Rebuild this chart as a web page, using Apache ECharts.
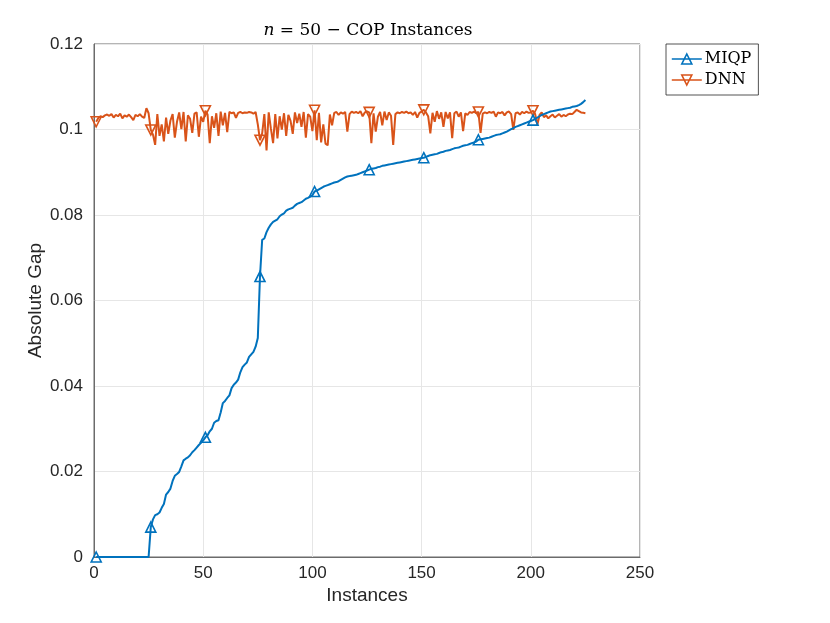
<!DOCTYPE html>
<html>
<head>
<meta charset="utf-8">
<script src="https://cdn.jsdelivr.net/npm/echarts@6/dist/echarts.min.js"></script>
<style>
  html, body { margin: 0; padding: 0; background: #fff; }
  #chart { width: 830px; height: 623px; }
</style>
</head>
<body>
<div id="chart"></div>
<script>
// tick labels
const xTicks = [0, 50, 100, 150, 200, 250];
const yTicks = [0, 0.02, 0.04, 0.06, 0.08, 0.1, 0.12];

// MIQP absolute gap, sorted, instances 1..225
const miqpGap = [
  0, 0, 0, 0, 0, 0, 0, 0, 0, 0, 0, 0, 0, 0, 0, 0, 0, 0, 0, 0, 0, 0, 0, 0, 0,
  0.0070, 0.0088, 0.0098, 0.0100, 0.0104, 0.0115, 0.0124, 0.0146, 0.0152, 0.0160,
  0.0178, 0.0190, 0.0194, 0.0199, 0.0212, 0.0226, 0.0230, 0.0233, 0.0238, 0.0245,
  0.0250, 0.0256, 0.0262, 0.0267, 0.0273, 0.0280, 0.0285, 0.0294, 0.0300, 0.0314,
  0.0318, 0.0320, 0.0338, 0.0360, 0.0365, 0.0372, 0.0378, 0.0395, 0.0403, 0.0408,
  0.0415, 0.0432, 0.0444, 0.0450, 0.0455, 0.0468, 0.0474, 0.0480, 0.0492, 0.0512,
  0.0656, 0.0742, 0.0745, 0.0760, 0.0770, 0.0778, 0.0784, 0.0787, 0.0790, 0.0797,
  0.0801, 0.0804, 0.0810, 0.0813, 0.0815, 0.0817, 0.0822, 0.0826, 0.0828, 0.0830,
  0.0834, 0.0838, 0.0840, 0.0843, 0.0846, 0.0855, 0.0857, 0.0860, 0.0863, 0.0866,
  0.0868, 0.0870, 0.0872, 0.0874, 0.0876, 0.0877, 0.0879, 0.0882, 0.0885, 0.0888,
  0.0890, 0.0891, 0.0892, 0.0893, 0.0894, 0.0896, 0.0898, 0.0900, 0.0902, 0.0904,
  0.0906, 0.0908, 0.0909, 0.0910, 0.0912, 0.0913, 0.0915, 0.0916, 0.0917, 0.0918,
  0.0919, 0.0920, 0.0921, 0.0922, 0.0923, 0.0924, 0.0925, 0.0926, 0.0927, 0.0928,
  0.0929, 0.0930, 0.0931, 0.0932, 0.0933, 0.0934, 0.0936, 0.0938, 0.0940, 0.0941,
  0.0942, 0.0943, 0.0945, 0.0947, 0.0948, 0.0950, 0.0951, 0.0952, 0.0954, 0.0956,
  0.0957, 0.0958, 0.0960, 0.0962, 0.0963, 0.0964, 0.0966, 0.0968, 0.0970, 0.0972,
  0.0976, 0.0977, 0.0978, 0.0979, 0.0980, 0.0981, 0.0983, 0.0985, 0.0987, 0.0988,
  0.0989, 0.0991, 0.0993, 0.0995, 0.0998, 0.1001, 0.1003, 0.1006, 0.1008, 0.1010,
  0.1012, 0.1014, 0.1016, 0.1018, 0.1020, 0.1022, 0.1025, 0.1028, 0.1031, 0.1034,
  0.1036, 0.1038, 0.1040, 0.1042, 0.1043, 0.1044, 0.1045, 0.1046, 0.1047, 0.1048,
  0.1049, 0.1050, 0.1051, 0.1053, 0.1054, 0.1055, 0.1057, 0.1060, 0.1064, 0.1069
];

// DNN absolute gap, same instance order
const dnnGap = [
  0.1018, 0.1027, 0.1031, 0.1029, 0.1033, 0.1035, 0.1032, 0.1036, 0.1028, 0.1034,
  0.1031, 0.1037, 0.1026, 0.1033, 0.1030, 0.1035, 0.1029, 0.1022, 0.1034, 0.1031,
  0.1036, 0.1030, 0.1027, 0.1050, 0.1038, 0.0999, 0.0988, 0.0964, 0.1036, 0.0985,
  0.1012, 0.0972, 0.1028, 0.0990, 0.1021, 0.1036, 0.0981, 0.1018, 0.1040, 0.1001,
  0.1041, 0.0972, 0.1033, 0.1025, 0.0992, 0.1037, 0.1040, 0.0983, 0.1030, 0.1018,
  0.1044, 0.1035, 0.0968, 0.1031, 0.1004, 0.1038, 0.0985, 0.1042, 0.1010, 0.1039,
  0.0994, 0.1041, 0.1038, 0.1040, 0.1027, 0.1039, 0.1041, 0.1038, 0.1040, 0.1039,
  0.1041, 0.1040, 0.1037, 0.1041, 0.1012, 0.0975, 0.0991, 0.1036, 0.0951, 0.1040,
  0.1002, 0.0968, 0.1036, 0.0979, 0.1031, 0.1000, 0.1038, 0.0985, 0.1034, 0.1020,
  0.0990, 0.1040, 0.1015, 0.1037, 0.1006, 0.1041, 0.0981, 0.1036, 0.1030, 0.0996,
  0.1045, 0.0975, 0.1039, 0.0970, 0.1012, 0.0967, 0.0963, 0.1035, 0.1010, 0.1039,
  0.1041, 0.1034, 0.1040, 0.1037, 0.1041, 0.0995, 0.1036, 0.1042, 0.1039, 0.1041,
  0.1038, 0.1043, 0.1031, 0.1040, 0.1042, 0.1040, 0.0968, 0.1038, 0.0995, 0.1030,
  0.1041, 0.1010, 0.1042, 0.1022, 0.1040, 0.1032, 0.0964, 0.1036, 0.1040, 0.1038,
  0.1041, 0.1039, 0.1042, 0.1038, 0.1040, 0.1034, 0.1041, 0.1028, 0.1039, 0.1042,
  0.1046, 0.1040, 0.1031, 0.0991, 0.1039, 0.1018, 0.1043, 0.1025, 0.1040, 0.1006,
  0.1041, 0.1026, 0.1040, 0.0980, 0.1038, 0.1042, 0.1030, 0.1040, 0.0996, 0.1038,
  0.1034, 0.1041, 0.1039, 0.1042, 0.1038, 0.1041, 0.0992, 0.1037, 0.1040, 0.1038,
  0.1041, 0.1039, 0.1042, 0.1030, 0.1040, 0.1038, 0.1041, 0.1033, 0.1040, 0.1042,
  0.1036, 0.0999, 0.1038, 0.1040, 0.1035, 0.1041, 0.1038, 0.1042, 0.1039, 0.1040,
  0.1044, 0.1036, 0.1011, 0.1034, 0.1040, 0.1029, 0.1033, 0.1026, 0.1031, 0.1035,
  0.1028, 0.1032, 0.1036, 0.1030, 0.1034, 0.1031, 0.1035, 0.1037, 0.1036, 0.1041,
  0.1046, 0.1043, 0.1040, 0.1039, 0.1038
];

const seriesNames = ["MIQP", "DNN"];
const colors = ["#0072BD", "#D95319"];

// instance number is just the position, starting at 1
const toPairs = arr => arr.map((v, i) => [i + 1, v]);

const textColor = "#262626";
const frameColor = "#6b6b6b";
const sans = "Liberation Sans";
const serif = "DejaVu Serif";

// marker every 25 instances, like MATLAB MarkerIndices
const markerEvery = (val, params) => (params.dataIndex % 25 === 0 ? "triangle" : "none");

const chart = echarts.init(document.getElementById("chart"), null, {renderer: "canvas"});

chart.setOption({
  animation: false,
  backgroundColor: "#fff",
  title: {
    text: "{i|n} = 50 − COP Instances",
    left: 363,
    top: 17,
    textAlign: "center",
    textStyle: {
      fontFamily: serif,
      fontWeight: "normal",
      fontSize: 17,
      color: "#000",
      rich: {i: {fontFamily: serif, fontStyle: "italic", fontSize: 17, color: "#000"}},
    },
  },
  legend: {
    orient: "vertical",
    left: 666,
    top: 44,
    padding: [7, 7, 7, 5],
    itemGap: 5,
    itemWidth: 30,
    itemHeight: 11,
    borderColor: textColor,
    borderWidth: 0.8,
    backgroundColor: "#fff",
    textStyle: {fontFamily: serif, fontSize: 16, color: "#000", padding: [0, 0, 0, -2]},
    data: [
      {
        name: seriesNames[0],
        icon: "path://M0,8 L30,8 M15,3 L20,13 L10,13 Z",
        itemStyle: {color: "rgba(0,0,0,0)", borderColor: colors[0], borderWidth: 1.6},
      },
      {
        name: seriesNames[1],
        icon: "path://M0,8 L30,8 M15,13 L20,3 L10,3 Z",
        itemStyle: {color: "rgba(0,0,0,0)", borderColor: colors[1], borderWidth: 1.6},
      },
    ],
  },
  // box round the plot, as MATLAB "box on"
  grid: {
    left: 94,
    top: 44,
    right: 190,
    bottom: 66,
    containLabel: false,
    show: true,
    borderColor: frameColor,
    borderWidth: 1,
    backgroundColor: "rgba(0,0,0,0)",
  },
  xAxis: {
    type: "value",
    min: xTicks[0],
    max: xTicks[xTicks.length - 1],
    interval: 50,
    name: "Instances",
    nameLocation: "middle",
    nameGap: 29,
    nameMoveOverlap: false,
    nameTextStyle: {fontFamily: sans, fontSize: 19, color: textColor},
    axisLine: {show: true, onZero: false, lineStyle: {color: frameColor, width: 1}},
    axisTick: {show: false},
    axisLabel: {fontFamily: sans, fontSize: 17, color: textColor, margin: 8},
    splitLine: {show: true, lineStyle: {color: "#e6e6e6", width: 1}},
  },
  yAxis: {
    type: "value",
    min: yTicks[0],
    max: yTicks[yTicks.length - 1],
    interval: 0.02,
    name: "Absolute Gap",
    nameLocation: "middle",
    nameGap: 49,
    nameMoveOverlap: false,
    nameTextStyle: {fontFamily: sans, fontSize: 19, color: textColor},
    axisLine: {show: true, onZero: false, lineStyle: {color: frameColor, width: 1}},
    axisTick: {show: false},
    axisLabel: {
      fontFamily: sans,
      fontSize: 17,
      color: textColor,
      margin: 11,
      formatter: v => String(+v.toFixed(2)),
    },
    splitLine: {show: true, lineStyle: {color: "#e6e6e6", width: 1}},
  },
  series: [
    {
      name: seriesNames[0],
      type: "line",
      data: toPairs(miqpGap),
      symbol: markerEvery,
      symbolSize: 10,
      showAllSymbol: true,
      lineStyle: {color: colors[0], width: 2},
      itemStyle: {color: "rgba(0,0,0,0)", borderColor: colors[0], borderWidth: 1.6},
      z: 3,
    },
    {
      name: seriesNames[1],
      type: "line",
      data: toPairs(dnnGap),
      symbol: markerEvery,
      symbolSize: 10,
      symbolRotate: 180,
      showAllSymbol: true,
      lineStyle: {color: colors[1], width: 2},
      itemStyle: {color: "rgba(0,0,0,0)", borderColor: colors[1], borderWidth: 1.6},
      z: 2,
    },
  ],
});
</script>
</body>
</html>
